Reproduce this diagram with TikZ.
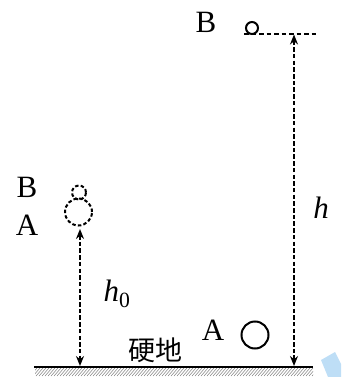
\documentclass[tikz,border=0pt]{standalone}
\usepackage{fontspec}
\setmainfont{Liberation Serif}
\newfontfamily\cjk{Noto Sans CJK SC}
\usetikzlibrary{arrows.meta}
\definecolor{wm}{RGB}{190,222,246}
\begin{document}
\begin{tikzpicture}[x=1pt,y=-1pt,
  lbl/.style={inner sep=0pt,font=\fontsize{31}{31}\selectfont},
  dball/.style={circle,draw,line width=2pt,dash pattern=on 3.5pt off 2.2pt,inner sep=0pt},
  sball/.style={circle,draw,line width=2pt,inner sep=0pt},
  dimarrow/.style={line width=1.7pt,dash pattern=on 4.5pt off 2.2pt,{Stealth[length=10pt,width=8pt]}-{Stealth[length=10pt,width=8pt]}}]
\useasboundingbox (0,0) rectangle (341,377);
% watermark shape
\fill[wm] (321,360) -- (335,352) -- (341,364) -- (341,377) -- (328,377) -- cycle;
% ground
\begin{scope}
\clip (35,368.5) rectangle (313,376);
\foreach \x in {30,33,...,320} \draw[gray,line width=0.5pt] (\x,376) -- (\x+7,368);
\end{scope}
\draw[line width=2.2pt] (34,367) coordinate (gl) -- (313,367) coordinate (gr);
\coordinate (g1) at (80,366);
\coordinate (g2) at (294,366);
% left balls
\node[dball,minimum size=27pt] (A1) at (78.5,212) {};
\node[dball,minimum size=14pt] (B1) at (79,192.5) {};
\node[lbl] (tB1) at (27,187) {B};
\node[lbl] (tA1) at (27,225) {A};
\coordinate (t1) at (80,229);
\draw[dimarrow] (t1) -- (g1);
\node[lbl,font=\fontsize{31}{31}\selectfont\itshape] (h0) at (117,294) {h\textsubscript{\upshape 0}};
% right top
\node[lbl] (tB2) at (206,22) {B};
\draw[line width=1.8pt,dash pattern=on 4.5pt off 3pt] (244,34) coordinate (ll) -- (318,34) coordinate (lr);
\node[sball,minimum size=12pt] (B2) at (252,28) {};
\coordinate (t2) at (294,34.5);
\draw[dimarrow] (t2) -- (g2);
\node[lbl,font=\fontsize{31}{31}\selectfont\itshape] (h) at (321,208) {h};
% right bottom
\node[lbl] (tA2) at (213,330) {A};
\node[sball,minimum size=27pt] (A2) at (255,335) {};
\node[lbl,font=\fontsize{27}{27}\cjk] (ground) at (155,350) {硬地};
\end{tikzpicture}
\end{document}
